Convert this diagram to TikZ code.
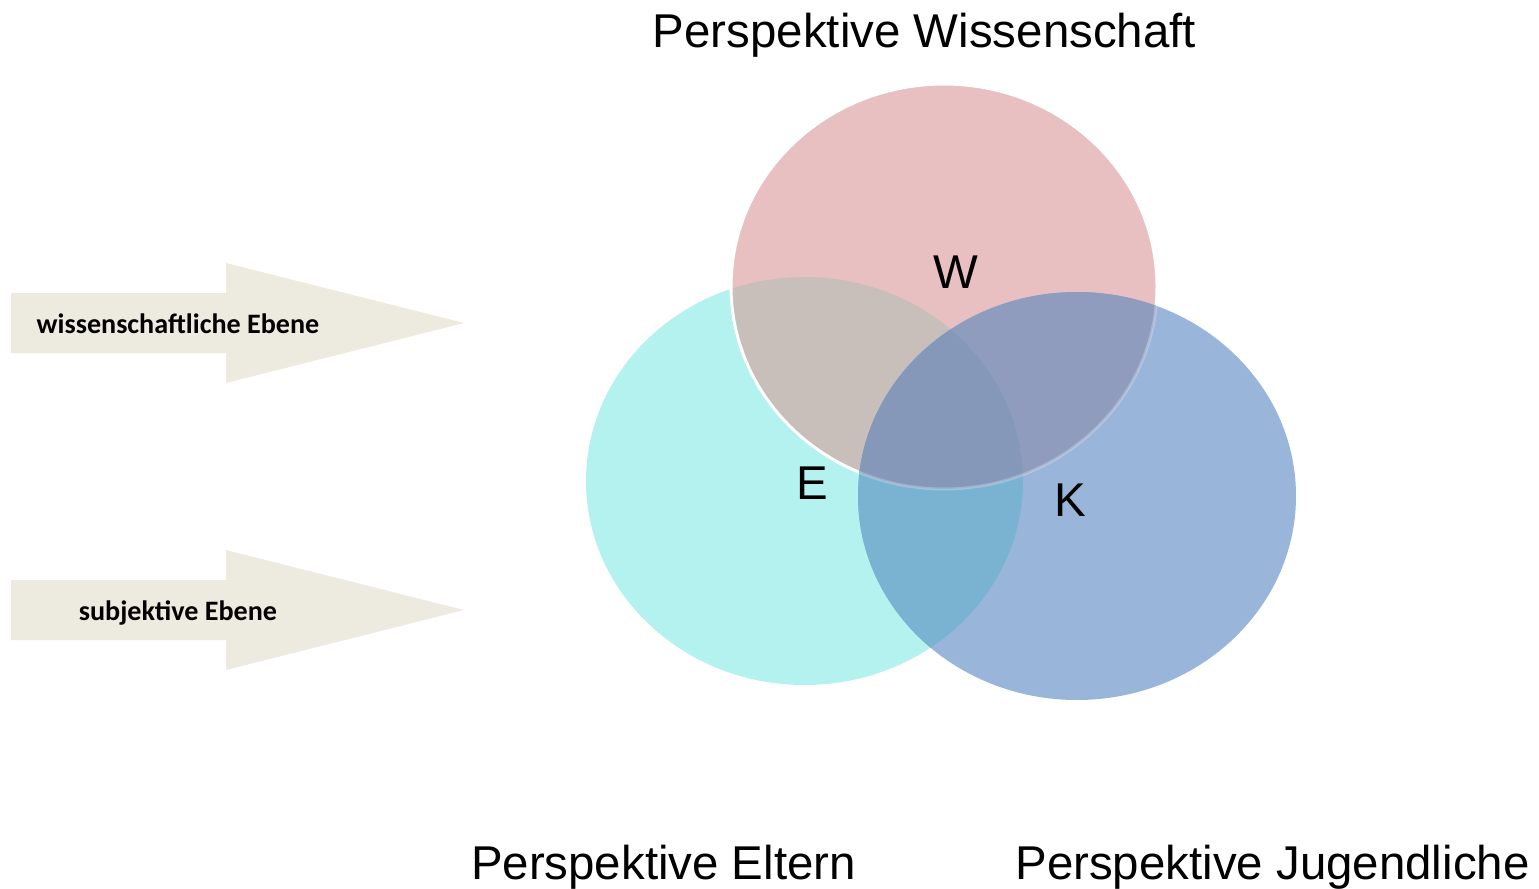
\documentclass[tikz,border=0pt]{standalone}
\usepackage{fontspec}
\setmainfont{Liberation Sans}
\newfontfamily\calibrifont{Carlito}
\usetikzlibrary{positioning}

\definecolor{wcol}{RGB}{232,192,193}
\definecolor{ecol}{RGB}{180,242,239}
\definecolor{kcol}{RGB}{154,181,218}
\definecolor{wecol}{RGB}{200,190,186}
\definecolor{wkcol}{RGB}{143,156,190}
\definecolor{ekcol}{RGB}{122,178,210}
\definecolor{wekcol}{RGB}{133,152,185}
\definecolor{bandcol}{RGB}{237,234,224}

\begin{document}
\begin{tikzpicture}[
  x=0.02cm, y=-0.02cm,
  persp/.style={font=\fontsize{27}{32}\selectfont, anchor=base},
  letter/.style={font=\fontsize{27}{32}\selectfont, anchor=base},
  lvl/.style={font=\calibrifont\bfseries\fontsize{16}{19}\selectfont, anchor=base},
  band/.style={fill=bandcol},
]
  \useasboundingbox (0,0) rectangle (1539,889);

  \coordinate (w) at (944,286.5);
  \coordinate (e) at (804.5,481);
  \coordinate (k) at (1077,496);
  \def\wshape{(w) ellipse [x radius=213, y radius=202.5]}
  \def\eshape{(e) ellipse [x radius=218.5, y radius=204]}
  \def\kshape{(k) ellipse [x radius=219, y radius=204]}

  % level arrows
  \fill[band] (11,293) -- (226,293) -- (226,263) -- (464,323)
    -- (226,383) -- (226,353) -- (11,353) -- cycle;
  \fill[band] (11,580) -- (226,580) -- (226,550) -- (464,610)
    -- (226,670) -- (226,640) -- (11,640) -- cycle;
  \node[lvl] (wiss) at (178,333) {wissenschaftliche Ebene};
  \node[lvl] (subj) at (178,620) {subjektive Ebene};

  % perspectives
  \fill[ecol] \eshape;
  \fill[wcol] \wshape;
  \begin{scope}
    \clip \wshape;
    \fill[wecol] \eshape;
  \end{scope}
  \draw[white, line width=1.7pt] \wshape;
  \fill[kcol] \kshape;
  \begin{scope}
    \clip \kshape;
    \fill[wkcol] \wshape;
    \fill[ekcol] \eshape;
    \clip \eshape;
    \fill[wekcol] \wshape;
  \end{scope}
  \begin{scope}
    \clip \kshape;
    \draw[white, opacity=0.25, line width=1.7pt] \wshape;
  \end{scope}

  \node[letter] (lw) at (956,288) {W};
  \node[letter] (le) at (812,499) {E};
  \node[letter] (lk) at (1070,516) {K};

  \node[persp] (pw) at (924.5,48) {Perspektive Wissenschaft};
  \node[persp] (pe) at (663.5,879) {Perspektive Eltern};
  \node[persp] (pj) at (1272.5,879) {Perspektive Jugendliche};
\end{tikzpicture}
\end{document}
